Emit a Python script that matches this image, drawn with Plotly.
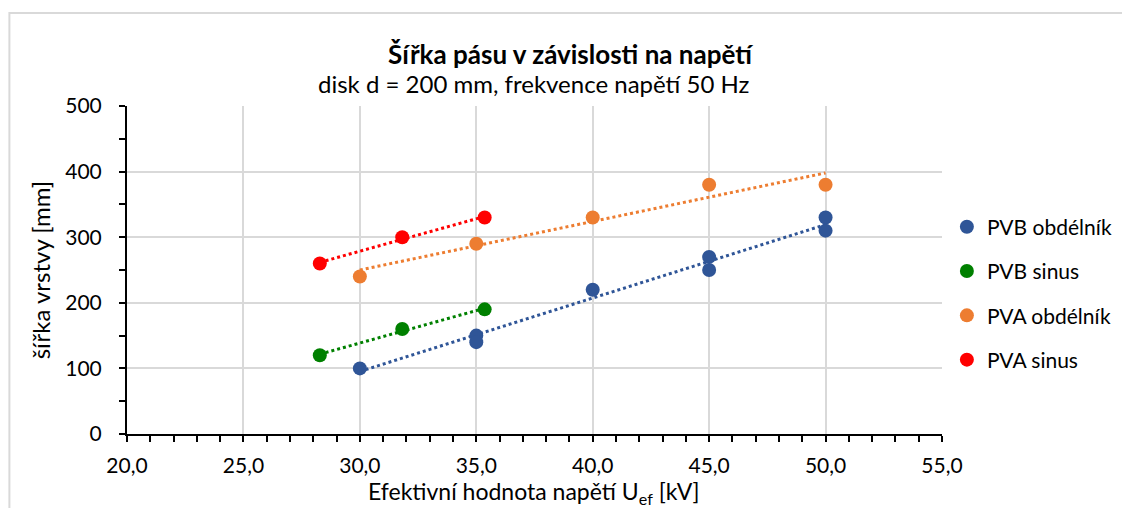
import numpy as np
import plotly.graph_objects as go

# data
pvb_obd_x = [30.0, 35.0, 35.0, 40.0, 45.0, 45.0, 50.0, 50.0]
pvb_obd_y = [100, 150, 140, 220, 270, 250, 330, 310]

pvb_sin_x = [28.28, 31.82, 35.36]
pvb_sin_y = [120, 160, 190]

pva_obd_x = [30.0, 35.0, 40.0, 45.0, 50.0]
pva_obd_y = [240, 290, 330, 380, 380]

pva_sin_x = [28.28, 31.82, 35.36]
pva_sin_y = [260, 300, 330]

series = [
    ("PVB obdélník", pvb_obd_x, pvb_obd_y, "#2F5597"),
    ("PVB sinus", pvb_sin_x, pvb_sin_y, "#008000"),
    ("PVA obdélník", pva_obd_x, pva_obd_y, "#ED7D31"),
    ("PVA sinus", pva_sin_x, pva_sin_y, "#FF0000"),
]

FONT = "Lato"

fig = go.Figure()

# linear trendlines (dotted), not in legend
for name, xs, ys, color in series:
    k, q = np.polyfit(xs, ys, 1)
    tx = [min(xs), max(xs)]
    fig.add_trace(go.Scatter(
        x=tx, y=[k * v + q for v in tx],
        mode="lines", showlegend=False, hoverinfo="skip",
        line={"color": color, "width": 3, "dash": "dot"},
    ))

for name, xs, ys, color in series:
    fig.add_trace(go.Scatter(
        x=xs, y=ys, mode="markers", name=name, legendgroup=name,
        marker={"color": color, "size": 14},
    ))

# page body has an 8px margin, so the figure is 8px smaller than the window
fig.update_layout(
    width=1122, height=500,
    margin={"l": 119, "r": 185, "t": 98, "b": 74},
    paper_bgcolor="white", plot_bgcolor="white",
    separators=", ",
    font={"family": FONT, "size": 21, "color": "#000000"},
    legend={
        "x": 1.006, "xanchor": "left", "y": 0.428, "yanchor": "middle",
        "font": {"size": 21, "family": FONT},
        "tracegroupgap": 14, "itemwidth": 30,
    },
    annotations=[
        {"text": "<b>Šířka pásu v závislosti na napětí</b>",
         "xref": "paper", "yref": "paper", "x": 0.5446, "y": 1.158,
         "xanchor": "center", "yanchor": "middle", "showarrow": False,
         "font": {"size": 26, "family": FONT}},
        {"text": "disk d = 200 mm, frekvence napětí 50 Hz",
         "xref": "paper", "yref": "paper", "x": 0.4988, "y": 1.0701,
         "xanchor": "center", "yanchor": "middle", "showarrow": False,
         "font": {"size": 24, "family": FONT}},
        # axis titles
        {"text": "Efektivní hodnota napětí U<sub>ef</sub> [kV]",
         "xref": "paper", "yref": "paper", "x": 0.4994, "y": -0.178,
         "xanchor": "center", "yanchor": "middle", "showarrow": False,
         "font": {"size": 23, "family": FONT}},
        {"text": "šířka vrstvy [mm]", "textangle": -90,
         "xref": "paper", "yref": "paper", "x": -0.1064, "y": 0.5,
         "xanchor": "center", "yanchor": "middle", "showarrow": False,
         "font": {"size": 24, "family": FONT}},
    ],
    shapes=[{
        "type": "rect", "xref": "paper", "yref": "paper",
        "x0": -0.1443, "x1": 1.3, "y0": -0.5, "y1": 1.2835,
        "line": {"color": "#D9D9D9", "width": 2}, "layer": "below",
    }],
)

fig.update_xaxes(
    range=[20, 55], dtick=5, tick0=20, tickformat=".1f",
    showgrid=True, gridcolor="#D9D9D9", gridwidth=2,
    showline=True, linecolor="#000000", linewidth=2,
    ticks="outside", ticklen=6, tickcolor="#000000", tickwidth=2,
    minor={"dtick": 1, "ticks": "outside", "ticklen": 6, "tickcolor": "#000000", "showgrid": False},
    ticklabelstandoff=6, zeroline=False, automargin=False,
)
fig.update_yaxes(
    range=[0, 500], dtick=100, tick0=0,
    showgrid=True, gridcolor="#D9D9D9", gridwidth=2,
    showline=True, linecolor="#000000", linewidth=2,
    ticks="outside", ticklen=6, tickcolor="#000000", tickwidth=2,
    minor={"dtick": 50, "ticks": "outside", "ticklen": 6, "tickcolor": "#000000", "showgrid": False},
    ticklabelstandoff=13, zeroline=False, automargin=False,
)

fig.write_html("out.html")
